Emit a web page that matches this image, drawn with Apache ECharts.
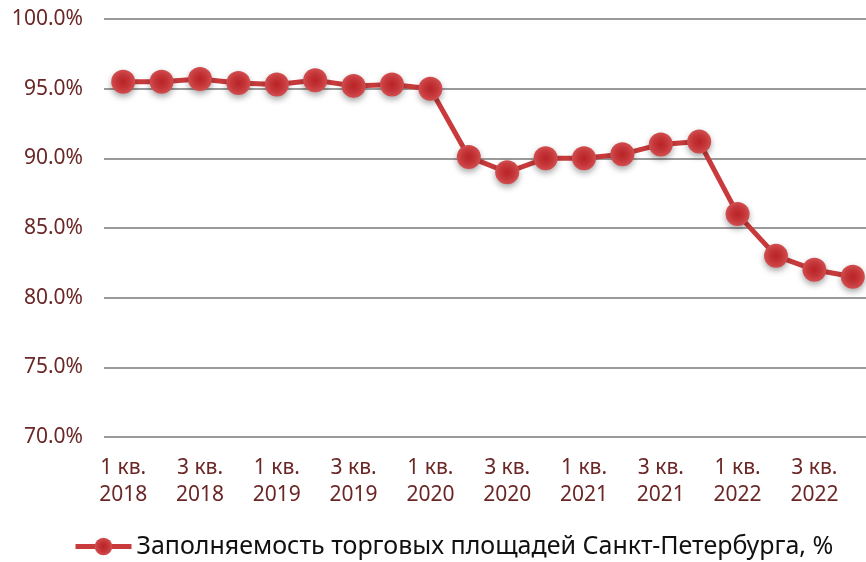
<!DOCTYPE html>
<html><head><meta charset="utf-8">
<script src="https://cdn.jsdelivr.net/npm/echarts@6/dist/echarts.min.js"></script>
<style>html,body{margin:0;padding:0;background:#fff}#c{width:866px;height:562px}</style>
</head><body><div id="c"></div>
<script>
const categories = [
 "1 кв.\n2018","2 кв.\n2018","3 кв.\n2018","4 кв.\n2018",
 "1 кв.\n2019","2 кв.\n2019","3 кв.\n2019","4 кв.\n2019",
 "1 кв.\n2020","2 кв.\n2020","3 кв.\n2020","4 кв.\n2020",
 "1 кв.\n2021","2 кв.\n2021","3 кв.\n2021","4 кв.\n2021",
 "1 кв.\n2022","2 кв.\n2022","3 кв.\n2022","4 кв.\n2022"
];
const occupancy = [95.5,95.5,95.7,95.4,95.3,95.6,95.2,95.3,95.0,90.1,89.0,90.0,90.0,90.3,91.0,91.2,86.0,83.0,82.0,81.5];
const seriesName = "Заполняемость торговых площадей Санкт-Петербурга, %";
const yMin = 70, yMax = 100, yStep = 5;

const labelColor = "#6b2626";
const lineColor = "#c83a3c";
const font = "Noto Sans";

const chart = echarts.init(document.getElementById('c'));
chart.setOption({
  animation: false,
  grid: {left: 104, top: 19, width: 768, height: 418, containLabel: false, outerBoundsMode: 'none'},
  legend: {
    top: 534, left: 73, padding: 0,
    itemWidth: 56, itemHeight: 22, itemGap: 6,
    lineStyle: {width: 5},
    textStyle: {fontFamily: font, fontSize: 25, color: '#111'},
    data: [seriesName]
  },
  xAxis: {
    type: 'category', data: categories, boundaryGap: true,
    axisLine: {show: false}, axisTick: {show: false},
    axisLabel: {interval: 1, color: labelColor, fontFamily: font, fontSize: 21, lineHeight: 27, margin: 18}
  },
  yAxis: {
    type: 'value', min: yMin, max: yMax, interval: yStep,
    axisLine: {show: false}, axisTick: {show: false},
    axisLabel: {color: labelColor, fontFamily: font, fontSize: 21, margin: 21,
      formatter: v => v.toFixed(1) + '%'},
    splitLine: {lineStyle: {color: '#9a9a9a', width: 2}}
  },
  series: [{
    name: seriesName, type: 'line', data: occupancy,
    symbol: 'circle', symbolSize: 24,
    lineStyle: {color: lineColor, width: 5},
    itemStyle: {
      color: {type: 'radial', x: 0.5, y: 0.5, r: 0.5, colorStops: [
        {offset: 0, color: '#b82326'}, {offset: 0.6, color: '#c5373a'}, {offset: 1, color: '#d24e50'}]},
      shadowColor: 'rgba(0,0,0,0.35)', shadowBlur: 6, shadowOffsetY: 3
    }
  }]
});
</script></body></html>
